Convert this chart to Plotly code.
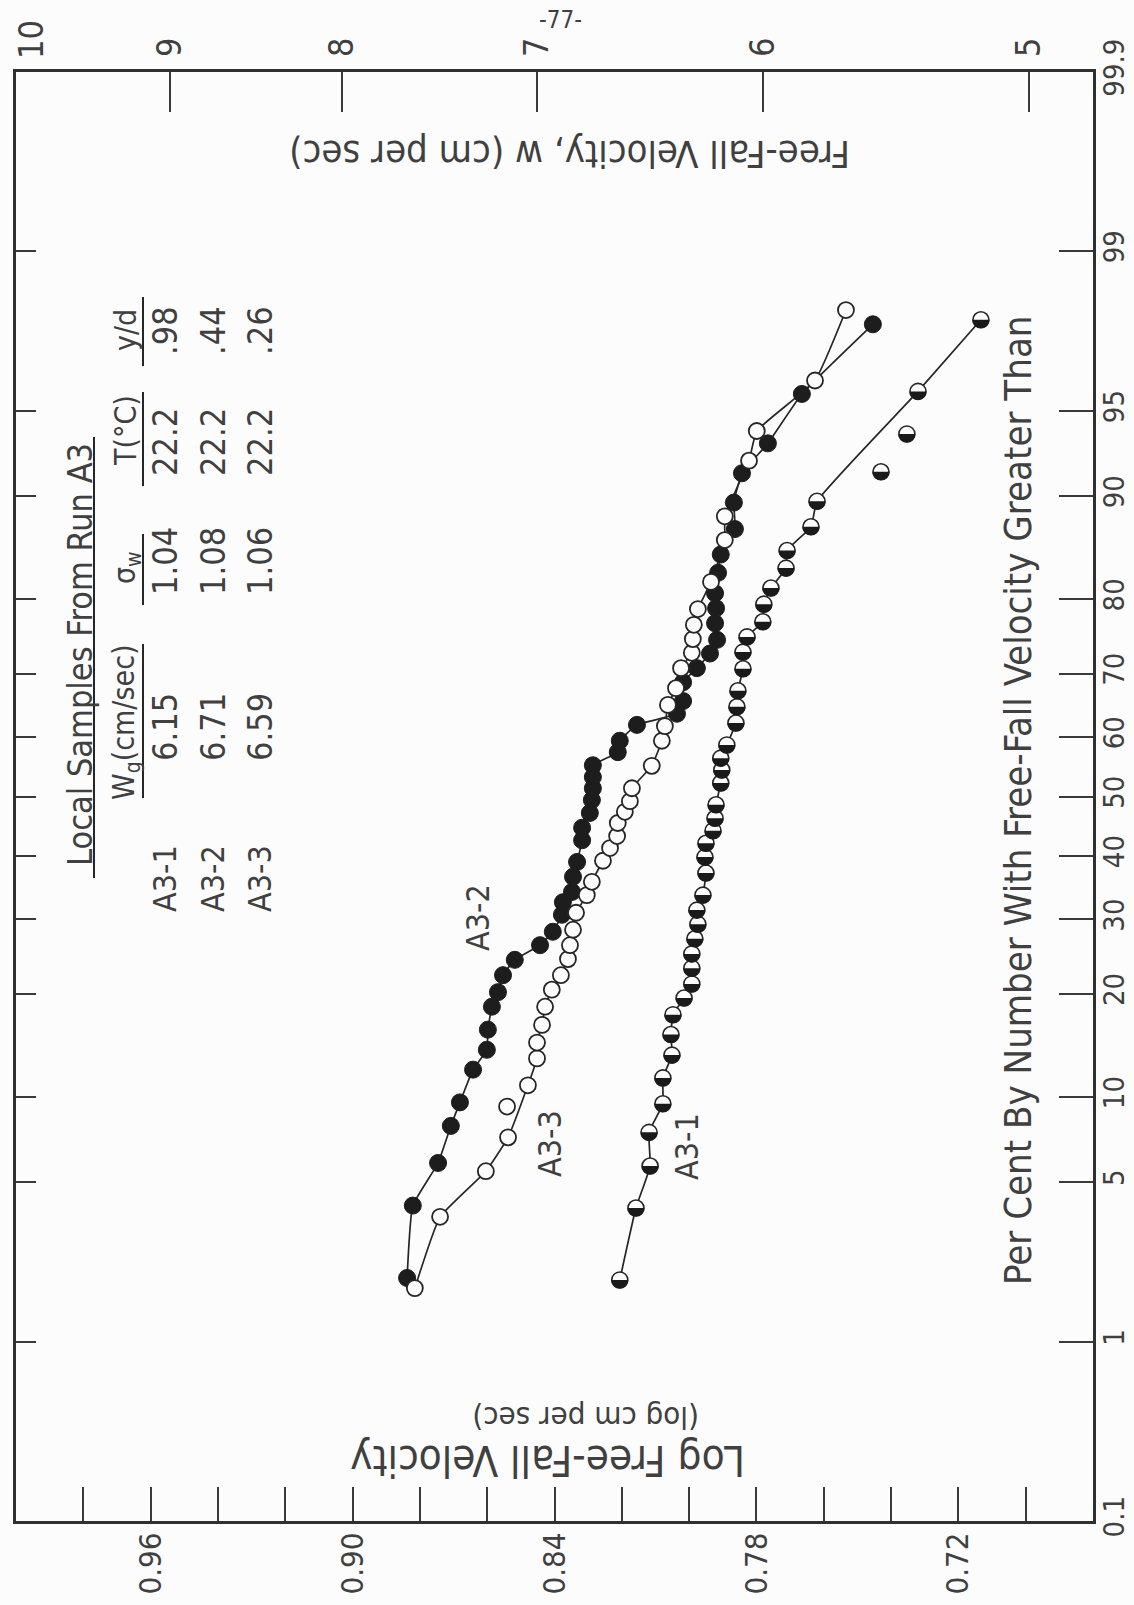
import plotly.graph_objects as go
from statistics import NormalDist

_nd = NormalDist()


def probit(p):
    return _nd.inv_cdf(p / 100.0)


# ---------------- data ----------------
# log10 free-fall velocity (cm/sec) and per cent by number with velocity greater than
a31_logv = [0.8206, 0.8158, 0.8116, 0.8119, 0.8078, 0.8078, 0.8051, 0.8054, 0.8048, 0.8015,
            0.7992, 0.7992, 0.7992, 0.7983, 0.7974, 0.7977, 0.7959, 0.7950, 0.7953, 0.7950,
            0.7929, 0.7923, 0.7920, 0.7906, 0.7903, 0.7906, 0.7888, 0.7861, 0.7858, 0.7855,
            0.7840, 0.7840, 0.7828, 0.7781, 0.7778, 0.7757, 0.7712, 0.7709, 0.7638, 0.7620,
            0.7430, 0.7353, 0.7320, 0.7133]
a31_pct = [1.96, 3.96, 5.75, 7.6, 9.5, 11.5, 13.5, 15.5, 17.6, 19.5,
           21.2, 23.2, 25.1, 27.2, 29.3, 31.4, 33.7, 37.2, 39.8, 42.1,
           44.2, 46.3, 48.6, 52.3, 54.5, 56.5, 58.7, 62.3, 64.9, 67.4,
           70.7, 73.1, 75.2, 77.2, 79.4, 81.3, 83.5, 85.3, 87.5, 89.6,
           91.7, 93.9, 95.8, 97.9]
a31_off_curve = [40, 41]

a32_logv = [0.8838, 0.8821, 0.8746, 0.8708, 0.8681, 0.8642, 0.8601, 0.8598, 0.8586, 0.8568,
            0.8553, 0.8518, 0.8443, 0.8405, 0.8378, 0.8375, 0.8348, 0.8345, 0.8333, 0.8318,
            0.8318, 0.8295, 0.8289, 0.8286, 0.8286, 0.8286, 0.8212, 0.8206, 0.8155, 0.8036,
            0.8018, 0.8018, 0.7977, 0.7938, 0.7917, 0.7923, 0.7920, 0.7923, 0.7914, 0.7906,
            0.7864, 0.7867, 0.7843, 0.7766, 0.7665, 0.7454]
a32_pct = [2.0, 4.05, 5.9, 8.0, 9.6, 12.2, 14.0, 16.0, 18.5, 20.2,
           22.3, 24.3, 26.3, 28.2, 30.7, 32.6, 34.2, 36.6, 39.0, 42.6,
           44.7, 47.2, 49.4, 51.4, 53.3, 55.3, 57.5, 59.4, 62.0, 63.8,
           65.8, 68.7, 70.8, 72.9, 74.8, 77.0, 78.9, 80.7, 83.0, 84.9,
           87.3, 89.5, 91.6, 93.4, 95.7, 97.8]
a32_off_curve = []

a33_logv = [0.8815, 0.8740, 0.8604, 0.8538, 0.8541, 0.8479, 0.8452, 0.8452, 0.8437, 0.8428,
            0.8408, 0.8381, 0.8360, 0.8354, 0.8345, 0.8336, 0.8304, 0.8289, 0.8256, 0.8235,
            0.8214, 0.8212, 0.8191, 0.8176, 0.8170, 0.8111, 0.8081, 0.8072, 0.8063, 0.8039,
            0.8024, 0.7992, 0.7989, 0.7986, 0.7974, 0.7935, 0.7894, 0.7894, 0.7822, 0.7799,
            0.7626, 0.7534]
a33_pct = [1.8, 3.65, 5.5, 7.3, 9.3, 10.9, 13.2, 14.7, 16.5, 18.5,
           20.5, 22.3, 24.4, 26.3, 28.5, 31.0, 33.7, 35.8, 39.2, 41.3,
           43.3, 45.5, 47.4, 49.2, 51.4, 55.2, 59.4, 61.8, 65.2, 67.8,
           70.8, 73.0, 74.9, 76.8, 78.8, 82.0, 86.3, 88.4, 92.4, 94.05,
           96.2, 98.1]
a33_off_curve = [4]

# axis ticks
logv_minor_ticks = [0.98, 0.96, 0.94, 0.92, 0.90, 0.88, 0.86, 0.84, 0.82, 0.80,
                    0.78, 0.76, 0.74, 0.72, 0.70]
logv_label_ticks = [0.96, 0.90, 0.84, 0.78, 0.72]
logv_labels = ["0.96", "0.90", "0.84", "0.78", "0.72"]
w_ticks = [9, 8, 7, 6, 5]
w_labels = ["9", "8", "7", "6", "5"]
w_corner_label = "10"  # w = 10 sits on the left frame edge
pct_ticks = [0.1, 1, 5, 10, 20, 30, 40, 50, 60, 70, 80, 90, 95, 99, 99.9]
pct_labels = ["0.1", "1", "5", "10", "20", "30", "40", "50", "60", "70", "80", "90", "95", "99", "99.9"]

# legend table
table_rows = ["A3-1", "A3-2", "A3-3"]
table_wg = ["6.15", "6.71", "6.59"]
table_sigma = ["1.04", "1.08", "1.06"]
table_temp = ["22.2", "22.2", "22.2"]
table_yd = [".98", ".44", ".26"]

# ---------------- layout geometry ----------------
W, H = 1134, 1605
L, R, T, B = 16, 1093, 72, 1521
LOGV_RANGE = [1.0, 0.68]
Z_RANGE = [probit(0.1), probit(99.9)]

FONT = "DejaVu Sans Condensed, Liberation Sans Narrow, sans-serif"
INK = "#262626"
TXT = "#404040"
PAPER = "#fcfcfc"
MARK_R = 8.5  # marker radius in px


def pp(x, y):
    return (x - L) / (R - L), (B - y) / (B - T)


fig = go.Figure()

series = [
    ("A3-1", a31_logv, a31_pct, a31_off_curve, "half"),
    ("A3-2", a32_logv, a32_pct, a32_off_curve, "filled"),
    ("A3-3", a33_logv, a33_pct, a33_off_curve, "open"),
]

# curves first
for name, lv, pc, off, style in series:
    cx = [v for i, v in enumerate(lv) if i not in off]
    cz = [probit(p) for i, p in enumerate(pc) if i not in off]
    fig.add_trace(go.Scatter(x=cx, y=cz, mode="lines",
                             line=dict(color=INK, width=1.7, shape="spline", smoothing=0.4),
                             hoverinfo="skip", showlegend=False))

shapes = []
k = 0.5523 * MARK_R
r = MARK_R
half_disk = (f"M {-r},0 C {-r},{-k} {-k},{-r} 0,{-r} "
             f"C {k},{-r} {r},{-k} {r},0 Z")

# markers
for name, lv, pc, off, style in [series[1], series[2], series[0]]:
    z = [probit(p) for p in pc]
    if style == "filled":
        mk = dict(symbol="circle", size=2 * MARK_R, color="#1d1d1d",
                  line=dict(color="#1d1d1d", width=1))
    elif style == "open":
        mk = dict(symbol="circle", size=2 * MARK_R - 1, color=PAPER,
                  line=dict(color=INK, width=1.8))
    else:
        mk = dict(symbol="circle", size=2 * MARK_R - 1, color=PAPER,
                  line=dict(color=INK, width=1.6))
        # lower half of each marker filled black (anchored at the data point)
        for xv, zv in zip(lv, z):
            shapes.append(dict(type="path", xref="x", yref="y",
                               xsizemode="pixel", ysizemode="pixel",
                               xanchor=xv, yanchor=zv, path=half_disk,
                               fillcolor="#1a1a1a", line=dict(width=0), layer="above"))
    fig.add_trace(go.Scatter(x=lv, y=z, mode="markers", name=name, showlegend=False, marker=mk))

# invisible traces so that the secondary axes are drawn
fig.add_trace(go.Scatter(x=[w_ticks[2]], y=[0], xaxis="x2", yaxis="y", mode="markers",
                         marker=dict(opacity=0), hoverinfo="skip", showlegend=False))
fig.add_trace(go.Scatter(x=[logv_minor_ticks[5]], y=[0], xaxis="x", yaxis="y2", mode="markers",
                         marker=dict(opacity=0), hoverinfo="skip", showlegend=False))

tick_common = dict(ticklen=34, tickwidth=1.6, tickcolor="#3a3a3a")

fig.update_layout(
    width=W, height=H, autosize=False,
    margin=dict(l=L, r=W - R, t=T, b=H - B, pad=0),
    paper_bgcolor=PAPER, plot_bgcolor=PAPER,
    showlegend=False,
    xaxis=dict(range=LOGV_RANGE, showgrid=False, zeroline=False, automargin=False,
               showline=True, linewidth=3, linecolor="#303030", mirror=True,
               ticks="inside", tickvals=logv_label_ticks, ticktext=logv_labels, tickangle=-90,
               tickfont=dict(family=FONT, size=31, color=TXT), ticklabelstandoff=-4,
               minor=dict(ticks="inside", tickvals=logv_minor_ticks, showgrid=False,
                          **tick_common),
               **tick_common),
    xaxis2=dict(type="log", range=LOGV_RANGE, overlaying="x", side="top", anchor="y",
                showgrid=False, zeroline=False, showline=False, automargin=False,
                ticks="inside", ticklen=40, tickwidth=1.6, tickcolor="#3a3a3a",
                tickvals=w_ticks, ticktext=w_labels, tickangle=-90,
                tickfont=dict(family=FONT, size=34, color=TXT), ticklabelstandoff=14),
    yaxis=dict(range=Z_RANGE, showgrid=False, zeroline=False, automargin=False,
               showline=True, linewidth=3, linecolor="#303030", mirror=True,
               ticks="inside", ticklen=20, tickwidth=1.6, tickcolor="#3a3a3a",
               tickvals=[probit(p) for p in pct_ticks], showticklabels=False),
    yaxis2=dict(range=Z_RANGE, overlaying="y", side="right", anchor="x",
                showgrid=False, zeroline=False, showline=False, automargin=False,
                ticks="inside", tickvals=[probit(p) for p in pct_ticks], ticktext=pct_labels,
                tickangle=-90, tickfont=dict(family=FONT, size=29, color=TXT),
                ticklabelstandoff=1, ticklabeloverflow="allow", **tick_common),
)

annotations = []


def note(text, x, y, size, angle=0):
    xp, yp = pp(x, y)
    annotations.append(dict(text=text, x=xp, y=yp, xref="paper", yref="paper",
                            xanchor="center", yanchor="middle", showarrow=False,
                            textangle=angle, font=dict(family=FONT, size=size, color=TXT)))


note("-77-", 560, 20, 24)
note(w_corner_label, 31, 40, 34, -90)
note("Free-Fall Velocity, w (cm per sec)", 570, 154, 38, 180)
note("(log cm per sec)", 586, 1418, 31, 180)
note("Log Free-Fall Velocity", 548, 1461, 42, 180)
note("Per Cent By Number With Free-Fall Velocity Greater Than", 1018, 800, 38, -90)

# legend table
note("Local Samples From Run A3", 80, 655, 34, -90)
note("W<sub>g</sub>(cm/sec)", 126, 722, 30, -90)
note("\u03c3<sub>w</sub>", 126, 568, 30, -90)
note("T(\u00b0C)", 126, 431, 30, -90)
note("y/d", 126, 330, 30, -90)
row_x = [165, 213, 260]
for i, rx in enumerate(row_x):
    note(table_rows[i], rx, 879, 32, -90)
    note(table_wg[i], rx, 727, 34, -90)
    note(table_sigma[i], rx, 561, 34, -90)
    note(table_temp[i], rx, 442, 34, -90)
    note(table_yd[i], rx, 331, 34, -90)

# curve labels
note("A3-2", 478, 918, 32, -90)
note("A3-3", 550, 1144, 32, -90)
note("A3-1", 687, 1147, 32, -90)

fig.update_layout(annotations=annotations)

# underlines of the table
for (x, y0, y1) in [(94, 437, 878), (143, 644, 798), (143, 534, 605), (143, 392, 486), (143, 297, 366)]:
    xa, ya = pp(x, y0)
    _, yb = pp(x, y1)
    shapes.append(dict(type="line", xref="paper", yref="paper", x0=xa, x1=xa, y0=ya, y1=yb,
                       line=dict(color=INK, width=2)))
fig.update_layout(shapes=shapes)

fig.write_html("out.html")
